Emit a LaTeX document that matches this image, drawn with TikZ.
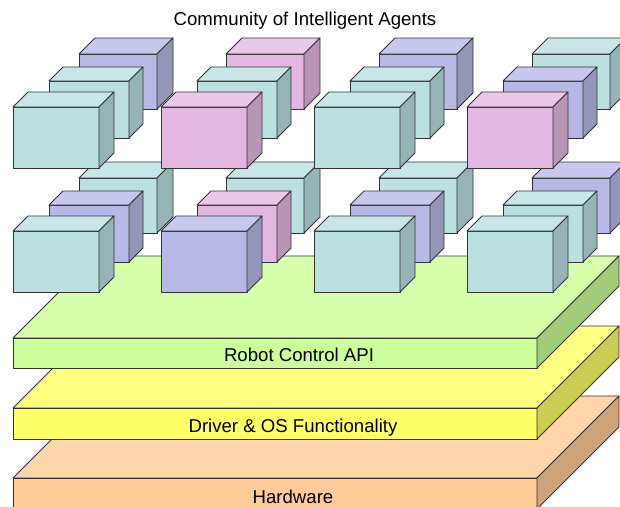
\documentclass[tikz,border=0pt]{standalone}
\usepackage{fontspec}
\setmainfont{Liberation Sans}
\definecolor{cTealF}{HTML}{BAE0E0}
\definecolor{cTealT}{HTML}{C8E6E8}
\definecolor{cTealS}{HTML}{96B4B6}
\definecolor{cBlueF}{HTML}{B8B8E6}
\definecolor{cBlueT}{HTML}{C8C8EE}
\definecolor{cBlueS}{HTML}{9496B8}
\definecolor{cPinkF}{HTML}{E2B8E2}
\definecolor{cPinkT}{HTML}{EAC8EA}
\definecolor{cPinkS}{HTML}{B894B6}
\definecolor{cGreenT}{HTML}{D6FFAA}
\definecolor{cGreenF}{HTML}{CCFF99}
\definecolor{cGreenS}{HTML}{A3CC7A}
\definecolor{cYellowT}{HTML}{FFFF80}
\definecolor{cYellowF}{HTML}{FFFF66}
\definecolor{cYellowS}{HTML}{CCCC52}
\definecolor{cOrangeT}{HTML}{FFD6AA}
\definecolor{cOrangeF}{HTML}{FFCC99}
\definecolor{cOrangeS}{HTML}{CCA37A}
\tikzset{
  edge/.style={draw=black!80, line width=0.9pt, line join=round},
  lbl/.style={font=\fontsize{18.6}{22}\selectfont, inner sep=0pt, text=black, anchor=base}
}
% cube: #1 x of front-left, #2 y of front-bottom, #3 w, #4 h, #5 depth, #6 colour prefix
\newcommand{\agentcube}[6]{%
  \filldraw[edge, fill=#6F] (#1,#2) rectangle ++(#3,-#4);
  \filldraw[edge, fill=#6T] (#1,#2-#4) -- ++(#5,-#5) -- ++(#3,0) -- ++(-#5,#5) -- cycle;
  \filldraw[edge, fill=#6S] (#1+#3,#2) -- ++(0,-#4) -- ++(#5,-#5) -- ++(0,#4) -- cycle;
}
% slab: #1 y of front top, #2 thickness, #3 colour prefix
\newcommand{\layerslab}[3]{%
  \filldraw[edge, fill=#3T] (13,#1) -- ++(82,-82) -- (619,#1-82) -- (537,#1) -- cycle;
  \filldraw[edge, fill=#3F] (13,#1) rectangle (537,#1+#2);
  \filldraw[edge, fill=#3S] (537,#1) -- (619,#1-82) -- ++(0,#2) -- (537,#1+#2) -- cycle;
}
\begin{document}
\begin{tikzpicture}[x=1pt,y=-1pt]
\useasboundingbox (0,0) rectangle (620,506);
\clip (0,0) rectangle (620,506);
\fill[white] (0,0) rectangle (620,506);

% layers
\layerslab{478}{31}{cOrange}
\layerslab{408}{31}{cYellow}
\layerslab{338}{30}{cGreen}

% back cubes
\agentcube{79}{109}{78}{55}{16}{cBlue}
\agentcube{226}{109}{78}{55}{16}{cPink}
\agentcube{379}{109}{78}{55}{16}{cBlue}
\agentcube{532}{109}{78}{55}{16}{cTeal}
\agentcube{79}{233}{78}{55}{16}{cTeal}
\agentcube{226}{233}{78}{55}{16}{cTeal}
\agentcube{379}{233}{78}{55}{16}{cTeal}
\agentcube{532}{233}{78}{55}{16}{cBlue}
% middle cubes
\agentcube{49}{138}{80}{57}{14}{cTeal}
\agentcube{197}{138}{80}{57}{14}{cTeal}
\agentcube{350}{138}{80}{57}{14}{cTeal}
\agentcube{503}{138}{80}{57}{14}{cBlue}
\agentcube{49}{262}{80}{57}{14}{cBlue}
\agentcube{197}{262}{80}{57}{14}{cPink}
\agentcube{350}{262}{80}{57}{14}{cBlue}
\agentcube{503}{262}{80}{57}{14}{cTeal}
% front cubes
\agentcube{13}{168}{86}{61}{15}{cTeal}
\agentcube{161}{168}{86}{61}{15}{cPink}
\agentcube{314}{168}{86}{61}{15}{cTeal}
\agentcube{467}{168}{86}{61}{15}{cPink}
\agentcube{13}{292}{86}{61}{15}{cTeal}
\agentcube{161}{292}{86}{61}{15}{cBlue}
\agentcube{314}{292}{86}{61}{15}{cTeal}
\agentcube{467}{292}{86}{61}{15}{cTeal}

% labels
\node[lbl] (title) at (305,25) {Community of Intelligent Agents};
\node[lbl] (api) at (299,361) {Robot Control API};
\node[lbl] (drv) at (293,432) {Driver \& OS Functionality};
\node[lbl] (hw) at (293,503) {Hardware};
\end{tikzpicture}
\end{document}
